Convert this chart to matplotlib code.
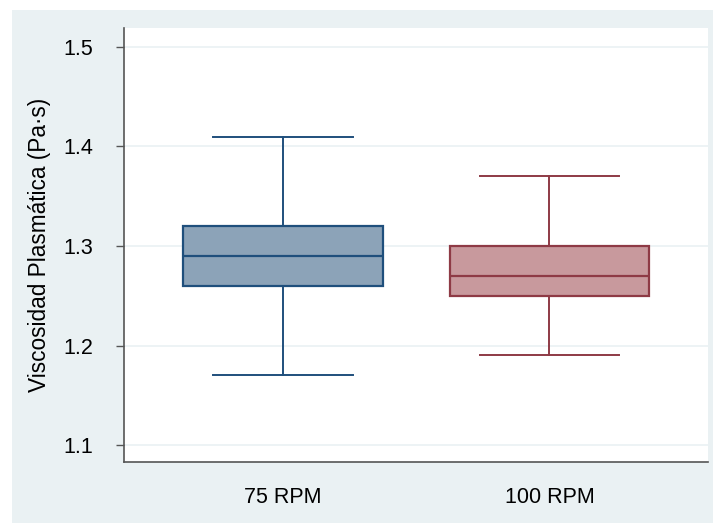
import matplotlib.pyplot as plt
from matplotlib.patches import Rectangle

plt.rcParams['font.family'] = ['Liberation Sans', 'DejaVu Sans']

# 血浆黏度汇总统计 (Pa·s)
groups = ['75 RPM', '100 RPM']
whisker_low = [1.17, 1.19]
q1 = [1.26, 1.25]
median = [1.29, 1.27]
q3 = [1.32, 1.30]
whisker_high = [1.41, 1.37]

y_ticks = [1.1, 1.2, 1.3, 1.4, 1.5]

edge_colors = ['#1F4F7C', '#8E3A45']
fill_colors = ['#8CA3B8', '#C8999D']
bg_color = '#EAF1F3'

fig = plt.figure(figsize=(7.13, 5.23), dpi=100, facecolor='white')
# 外部浅色背景
bg = Rectangle((12 / 713, 0), 1, 1 - 10 / 523, transform=fig.transFigure,
               facecolor=bg_color, edgecolor='none', zorder=-10)
fig.add_artist(bg)

ax = fig.add_axes([124 / 713, 1 - 462 / 523, (708 - 124) / 713, (462 - 28) / 523])
ax.set_facecolor('white')

stats = []
for i, g in enumerate(groups):
    stats.append({'label': g, 'whislo': whisker_low[i], 'q1': q1[i], 'med': median[i],
                  'q3': q3[i], 'whishi': whisker_high[i], 'fliers': []})

for i, s in enumerate(stats):
    ec = edge_colors[i]
    ax.bxp([s], positions=[i + 1], widths=0.75, capwidths=0.525, showfliers=False,
           patch_artist=True,
           boxprops=dict(facecolor=fill_colors[i], edgecolor=ec, linewidth=1.6),
           medianprops=dict(color=ec, linewidth=1.6),
           whiskerprops=dict(color=ec, linewidth=1.4),
           capprops=dict(color=ec, linewidth=1.4), zorder=3)

ax.set_xlim(0.403, 2.595)
ax.set_ylim(1.083, 1.519)
ax.set_yticks(y_ticks)
ax.set_yticklabels([f'{t:.1f}' for t in y_ticks])
ax.set_xticks([1, 2])
ax.set_xticklabels(groups)
ax.grid(axis='y', color=bg_color, linewidth=1.2, zorder=0)
ax.set_axisbelow(True)

ax.tick_params(axis='y', length=6, width=1, color='#555555', pad=16, labelsize=15.5)
ax.tick_params(axis='x', length=0, pad=18, labelsize=15.5)

for side in ['top', 'right']:
    ax.spines[side].set_visible(False)
for side in ['left', 'bottom']:
    ax.spines[side].set_color('#555555')
    ax.spines[side].set_linewidth(1.2)

ax.set_ylabel('Viscosidad Plasmática (Pa·s)', fontsize=16.3, labelpad=9)

plt.savefig('out.png', dpi=100, facecolor='white')
plt.close()
